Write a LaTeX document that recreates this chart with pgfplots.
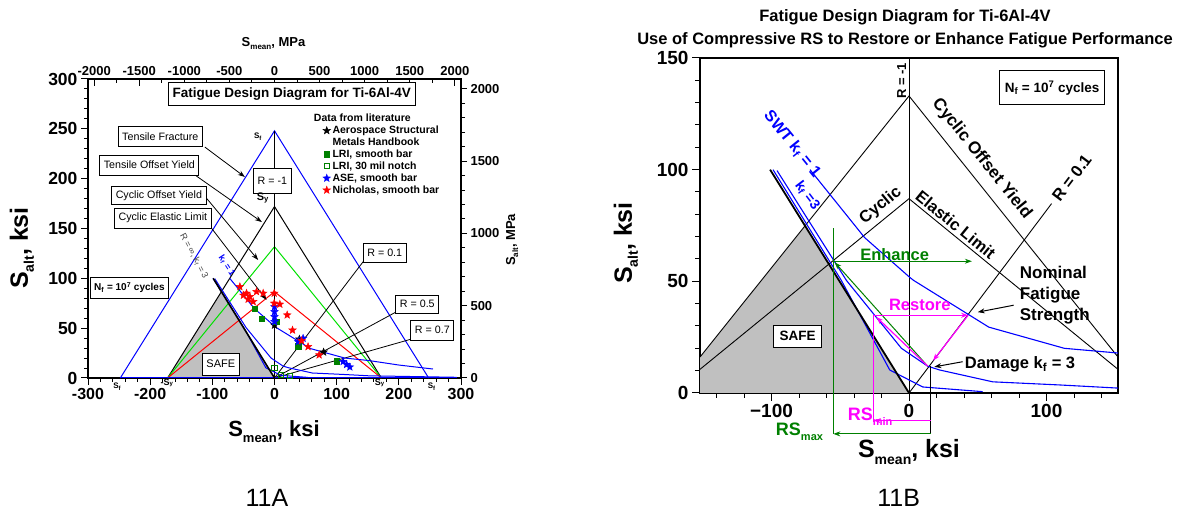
\documentclass[border=0pt]{standalone}
\usepackage{pgfplots}
\pgfplotsset{compat=1.18}
\usepackage{fontspec}
\setmainfont{Liberation Sans}
\usetikzlibrary{arrows.meta}
\newcommand{\fs}[1]{\fontsize{#1}{#1}\selectfont}
\definecolor{lgreen}{RGB}{0,225,0}
\definecolor{dgreen}{RGB}{0,128,0}
\definecolor{mag}{RGB}{255,0,255}
\definecolor{sgray}{RGB}{192,192,192}
\definecolor{sblue}{RGB}{0,0,255}
\definecolor{sred}{RGB}{255,0,0}
\pgfdeclareplotmark{fstar}{%
  \pgfpathmoveto{\pgfpointpolar{90}{\pgfplotmarksize}}%
  \pgfpathlineto{\pgfpointpolar{126}{0.42\pgfplotmarksize}}%
  \pgfpathlineto{\pgfpointpolar{162}{\pgfplotmarksize}}%
  \pgfpathlineto{\pgfpointpolar{198}{0.42\pgfplotmarksize}}%
  \pgfpathlineto{\pgfpointpolar{234}{\pgfplotmarksize}}%
  \pgfpathlineto{\pgfpointpolar{270}{0.42\pgfplotmarksize}}%
  \pgfpathlineto{\pgfpointpolar{306}{\pgfplotmarksize}}%
  \pgfpathlineto{\pgfpointpolar{342}{0.42\pgfplotmarksize}}%
  \pgfpathlineto{\pgfpointpolar{18}{\pgfplotmarksize}}%
  \pgfpathlineto{\pgfpointpolar{54}{0.42\pgfplotmarksize}}%
  \pgfpathclose
  \pgfusepathqfillstroke}
\tikzset{arr/.style={-{Stealth[length=7pt,width=5pt]}, line width=0.8pt},
  callout/.style={draw, line width=0.9pt, fill=white, font=\fs{10.7}, inner xsep=4pt, inner ysep=0pt, minimum height=20pt}}
\begin{document}
\begin{tikzpicture}
\useasboundingbox (0,0) rectangle (1194pt,511pt);

% ---------- LEFT PANEL: secondary MPa axes ----------
\begin{axis}[at={(88pt,133pt)}, anchor=south west, scale only axis,
  width=373pt, height=299pt, xmin=-2068.5, xmax=2068.5, ymin=0, ymax=1,
  axis x line*=top, axis y line=none, axis line style={line width=1.2pt},
  xtick={-2000,-1500,...,2000},
  xticklabels={-2000,-1500,-1000,-500,0,500,1000,1500,2000},
  minor xtick={-1750,-1250,...,1750},
  tick align=inside, major tick length=7pt, minor tick length=4pt,
  tick style={line width=1pt, black},
  x tick label style={font=\bfseries\fs{13}}]
\end{axis}
\begin{axis}[at={(88pt,133pt)}, anchor=south west, scale only axis,
  width=373pt, height=299pt, xmin=0, xmax=1, ymin=0, ymax=2068.5,
  axis y line*=right, axis x line=none, axis line style={line width=1.2pt},
  ytick={0,500,...,2000}, yticklabels={0,500,1000,1500,2000},
  minor ytick={100,200,...,2000},
  tick align=outside, major tick length=6pt, minor tick length=4pt,
  tick style={line width=1pt, black},
  y tick label style={font=\bfseries\fs{13}}]
\end{axis}

% ---------- LEFT PANEL: main axis ----------
\begin{axis}[at={(88pt,133pt)}, anchor=south west, scale only axis,
  width=373pt, height=299pt, xmin=-300, xmax=300, ymin=0, ymax=300,
  clip=false, axis line style={line width=1.2pt},
  xtick={-300,-200,...,300}, xticklabels={-300,-200,-100,0,100,200,300},
  ytick={0,50,...,300}, yticklabels={0,50,100,150,200,250,300},
  minor xtick={-280,-260,...,280}, minor ytick={10,20,...,290},
  xtick pos=left, ytick pos=left, tick align=outside,
  major tick length=7pt, minor tick length=4pt,
  tick style={line width=1pt, black},
  x tick label style={font=\bfseries\fs{16}},
  y tick label style={font=\bfseries\fs{17.5}},
  legend style={at={(axis cs:70,255)}, anchor=north west, draw=none, fill=none,
    font=\bfseries\fs{10.5}, inner sep=0pt, row sep=-1.2pt},
  legend cell align=left]
% safe region
\addplot[fill=sgray, draw=none, forget plot] coordinates {(-172,0) (-86,86) (0,0)} \closedcycle;
% triangles
\addplot[sblue, line width=1pt, forget plot] coordinates {(-248,0) (0,248) (248,0)};
\addplot[black, line width=1pt, forget plot] coordinates {(-172,0) (0,172) (172,0)};
\addplot[lgreen, line width=1pt, forget plot] coordinates {(-172,0) (0,131.7) (172,0)};
\addplot[sred, line width=1pt, forget plot] coordinates {(-172,0) (0,86.6) (172,0)};
\addplot[black, line width=0.9pt, forget plot] coordinates {(0,0) (0,248)};
% R lines
\addplot[black, line width=0.8pt, forget plot] coordinates {(0,0) (142.6,116.7)};
\addplot[black, line width=0.8pt, forget plot] coordinates {(0,0) (196.3,66.5)};
\addplot[black, line width=0.8pt, forget plot] coordinates {(0,0) (218.8,38.8)};
% blue base and curves
\addplot[sblue, line width=1pt, forget plot] coordinates {(-248,0) (293,0)};
\addplot[sblue, line width=1pt, forget plot] coordinates {(-72,100) (-32.3,69.6) (0.5,51.8) (3.4,50.4) (58,29.5) (113,20) (152,17.5) (200,13) (255,9)};
\addplot[sblue, line width=1pt, forget plot] coordinates {(-96,99.6) (-45.5,50.4) (-5.5,20) (13.6,12) (22.3,10.3) (60.9,5) (109.6,3.6) (152,2.2) (293,0.7)};
\addplot[sblue, line width=1pt, forget plot] coordinates {(-98.9,100) (-49.2,50.4) (-14,10.3) (10,2.7) (53.6,0.6)};
\addplot[black, line width=1.6pt, forget plot] coordinates {(-98.6,100) (0,0)};
% callout arrows
\draw[arr] (axis cs:-112,231.7) -- (axis cs:-47.7,201.7);
\draw[arr] (axis cs:-128,203.7) -- (axis cs:-20.3,156.5);
\draw[arr] (axis cs:-109.3,180.3) -- (axis cs:-26.3,118.4);
\draw[arr] (axis cs:-101.2,150.2) -- (axis cs:-12.8,78.3);
% data
\addplot[only marks, mark=fstar, mark size=4pt, black] coordinates {(0,53) (40,39) (79,26)};
\addlegendentry{Aerospace Structural}
\addlegendimage{empty legend}
\addlegendentry{Metals Handbook}
\addplot[only marks, mark=square*, mark size=2.8pt, dgreen] coordinates {(-31.6,69.4) (-20.9,59.4) (2.7,56.5) (38,32.1) (99.8,16.9)};
\addlegendentry{LRI, smooth bar}
\addplot[only marks, mark=square, mark size=2.6pt, dgreen, line width=0.9pt] coordinates {(0,9.7) (11,3) (25,2)};
\addlegendentry{LRI, 30 mil notch}
\addplot[only marks, mark=fstar, mark size=4pt, sblue] coordinates {(0,71.5) (0,66.5) (0,61.5) (0,56.5) (46,39.8) (38,36.4) (110.4,16.5) (116,13.5) (121.2,11)};
\addlegendentry{ASE, smooth bar}
\addplot[only marks, mark=fstar, mark size=4pt, sred] coordinates {(-55.7,91.6) (-50,83) (-45,85) (-42.4,79) (-39.6,81.6) (-34.3,76.6) (-28.9,86.6) (-18.2,85) (-0.5,85) (-0.5,75) (8.6,74) (20.4,63.2) (29,48) (43.5,37.4) (54,31.4) (71.8,23.1)};
\addlegendentry{Nicholas, smooth bar}
% boxes
\node[callout] at (axis cs:-183.7,242.3) {Tensile Fracture};
\node[callout] at (axis cs:-201.3,213.7) {Tensile Offset Yield};
\node[callout, minimum height=18pt] at (axis cs:-186,183.1) {Cyclic Offset Yield};
\node[callout] at (axis cs:-179.6,160.5) {Cyclic Elastic Limit};
\node[callout, minimum height=25pt] at (axis cs:-3.5,198.2) {R = -1};
\node[callout, minimum height=19pt] at (axis cs:177.4,125.9) {R = 0.1};
\node[callout, minimum height=18pt] at (axis cs:229.7,74.2) {R = 0.5};
\node[callout, minimum height=20pt] at (axis cs:253.9,48.2) {R = 0.7};
\node[callout, font=\bfseries\fs{10}, minimum height=21pt] at (axis cs:-233.4,90.8) {N\textsubscript{f} = 10\textsuperscript{7} cycles};
\node[callout, font=\fs{11}, minimum height=22pt] at (axis cs:-86.3,14) {SAFE};
\node[callout, font=\bfseries\fs{13.5}, minimum height=23pt] at (axis cs:27.9,285.4) {Fatigue Design Diagram for Ti-6Al-4V};
\node[anchor=west, font=\bfseries\fs{10.5}, inner sep=0pt] at (axis cs:63.2,261.4) {Data from literature};
\node[font=\bfseries\fs{11}] at (axis cs:-18.7,180.6) {S\textsubscript{y}};
\node[font=\bfseries\fs{8}] at (axis cs:-26.5,241.8) {S\textsubscript{f}};
\node[rotate=-62, font=\fs{9}, text=darkgray] at (axis cs:-129.5,122.4) {R = ∞, k\textsubscript{f} = 3};
\node[rotate=-57, font=\bfseries\fs{9}, text=sblue] at (axis cs:-76.6,112.4) {k\textsubscript{f} = 1};
\node[font=\bfseries\fs{8}] at (axis cs:-253,-9) {S\textsubscript{f}};
\node[font=\bfseries\fs{9}] at (axis cs:-173,-5) {-S\textsubscript{y}};
\node[font=\bfseries\fs{9}] at (axis cs:169.5,-5) {S\textsubscript{y}};
\node[font=\bfseries\fs{8}] at (axis cs:253,-9) {S\textsubscript{f}};
\end{axis}

% ---------- RIGHT PANEL ----------
\begin{axis}[at={(700pt,118pt)}, anchor=south west, scale only axis,
  width=418pt, height=335pt, xmin=-152, xmax=152, ymin=0, ymax=150,
  clip=false, axis line style={line width=1.5pt},
  xtick={-100,0,100}, xticklabels={−100,0,100},
  ytick={0,50,100,150}, yticklabels={0,50,100,150},
  minor xtick={-140,-120,...,140}, minor ytick={10,20,...,140},
  xtick pos=left, ytick pos=left, tick align=outside,
  major tick length=8pt, minor tick length=5pt,
  tick style={line width=1pt, black},
  x tick label style={font=\bfseries\fs{19}},
  y tick label style={font=\bfseries\fs{19}}]
\addplot[fill=sgray, draw=none] coordinates {(-152,0) (-152,16.1) (-75.7,74.8) (0,0)} \closedcycle;
\addplot[black, line width=0.9pt] coordinates {(-152,16.1) (0,133) (152,16.1)};
\addplot[black, line width=0.9pt] coordinates {(-152,10.6) (0,87) (152,10.6)};
\addplot[black, line width=0.9pt] coordinates {(0,0) (0,150)};
\addplot[black, line width=0.9pt] coordinates {(0,0) (103.7,84.8)};
\addplot[sblue, line width=1.1pt] coordinates {(-72,100) (-32.3,69.6) (0.5,51.8) (3.4,50.4) (58,29.5) (113,20) (152,17.9)};
\addplot[sblue, line width=1.1pt] coordinates {(-96,99.6) (-45.5,50.4) (-5.5,20) (13.6,12) (22.3,10.3) (60.9,5) (109.6,3.6) (152,2.2)};
\addplot[sblue, line width=1.1pt] coordinates {(-98.9,100) (-49.2,50.4) (-14,10.3) (10,2.7) (53.6,0.6)};
\addplot[black, line width=1.8pt] coordinates {(-101,100) (0,0)};
% annotations
\draw[dgreen, line width=1pt] (axis cs:-55,73.7) -- (axis cs:-55,-18.3);
\draw[dgreen, arr, line width=1pt] (axis cs:13.6,12) -- (axis cs:-54,58.5);
\draw[dgreen, arr, line width=1pt] (axis cs:-55,59) -- (axis cs:45.7,59);
\draw[mag, line width=1.2pt] (axis cs:-25.6,-13) -- (axis cs:-25.6,34.8);
\draw[mag, arr, line width=1.2pt] (axis cs:-25.6,34.8) -- (axis cs:43,34.8);
\draw[mag, arr, line width=1.2pt] (axis cs:13.6,12) -- (axis cs:-23.7,34);
\draw[mag, arr, line width=1.2pt] (axis cs:43,34.8) -- (axis cs:17.5,14.5);
\draw[black, line width=0.9pt] (axis cs:15.7,12) -- (axis cs:15.7,-18.3);
\draw[mag, arr, line width=1pt] (axis cs:15.7,-12.4) -- (axis cs:-25.6,-12.4);
\draw[dgreen, arr, line width=1pt] (axis cs:15.7,-18.3) -- (axis cs:-55,-18.3);
\draw[arr, line width=1pt] (axis cs:39,14) -- (axis cs:18.4,11.7);
\draw[arr, line width=1pt] (axis cs:76.1,39.3) -- (axis cs:50,36.2);
% labels
\node[rotate=90, font=\bfseries\fs{13}] at (axis cs:-5.4,139.7) {R = -1};
\node[draw, line width=1pt, fill=white, font=\bfseries\fs{13.5}, minimum width=105pt, minimum height=34pt, inner sep=0pt] at (axis cs:104.1,136.6) {N\textsubscript{f} = 10\textsuperscript{7} cycles};
\node[rotate=-51.3, font=\bfseries\fs{17}] at (axis cs:52.9,104.9) {Cyclic Offset Yield};
\node[rotate=53, font=\bfseries\fs{16.5}] at (axis cs:118.4,96.4) {R = 0.1};
\node[rotate=39.2, font=\bfseries\fs{16.5}] at (axis cs:-20.6,83.9) {Cyclic};
\node[rotate=-39.2, font=\bfseries\fs{16.5}] at (axis cs:34,75.4) {Elastic Limit};
\node[font=\bfseries\fs{16.5}, text=dgreen] at (axis cs:-10.4,62) {Enhance};
\node[font=\bfseries\fs{16.5}, text=mag] at (axis cs:7.8,39.3) {Restore};
\node[anchor=west, align=left, font=\bfseries\fs{17}, inner sep=0pt] at (axis cs:80.5,43.7) {Nominal\\[4pt]Fatigue\\[4pt]Strength};
\node[anchor=west, font=\bfseries\fs{16.5}, inner sep=0pt] at (axis cs:40.5,12.9) {Damage k\textsubscript{f} = 3};
\node[draw, line width=1pt, fill=white, font=\bfseries\fs{13.5}, minimum width=48pt, minimum height=22pt, inner sep=0pt] at (axis cs:-81,25.4) {SAFE};
\node[rotate=-51, font=\bfseries\fs{16}, text=sblue] at (axis cs:-85,111.4) {SWT k\textsubscript{f} = 1};
\node[rotate=-53, font=\bfseries\fs{14}, text=sblue] at (axis cs:-74,88.4) {k\textsubscript{f} =3};
\node[anchor=base west, font=\bfseries\fs{18}, text=mag, inner sep=0pt] at (axis cs:-44.6,-12.5) {RS\raisebox{-5pt}{\fs{11}min}};
\node[anchor=base west, font=\bfseries\fs{18}, text=dgreen, inner sep=0pt] at (axis cs:-96.9,-19.2) {RS\raisebox{-5pt}{\fs{11}max}};
\end{axis}

% ---------- outside texts ----------
\node[font=\bfseries\fs{13}] at (273.5pt,467pt) {S\raisebox{-3pt}{\fs{8}mean}, MPa};
\node[rotate=90, font=\bfseries\fs{13}] at (512pt,271pt) {S\raisebox{-3pt}{\fs{8}alt}, MPa};
\node[rotate=90, font=\bfseries\fs{25}] at (22pt,263pt) {S\raisebox{-6pt}{\fs{14}alt}, ksi};
\node[font=\bfseries\fs{22}] at (274pt,79pt) {S\raisebox{-6pt}{\fs{13}mean}, ksi};
\node[font=\fs{25}] at (267pt,13pt) {11A};
\node[font=\fs{25}] at (898.7pt,13pt) {11B};
\node[font=\bfseries\fs{16.5}] at (905pt,494pt) {Fatigue Design Diagram for Ti-6Al-4V};
\node[font=\bfseries\fs{16.5}] at (905pt,471pt) {Use of Compressive RS to Restore or Enhance Fatigue Performance};
\node[rotate=90, font=\bfseries\fs{25}] at (626pt,268pt) {S\raisebox{-6pt}{\fs{14}alt}, ksi};
\node[font=\bfseries\fs{25}] at (909pt,59pt) {S\raisebox{-7pt}{\fs{14}mean}, ksi};
\end{tikzpicture}
\end{document}
